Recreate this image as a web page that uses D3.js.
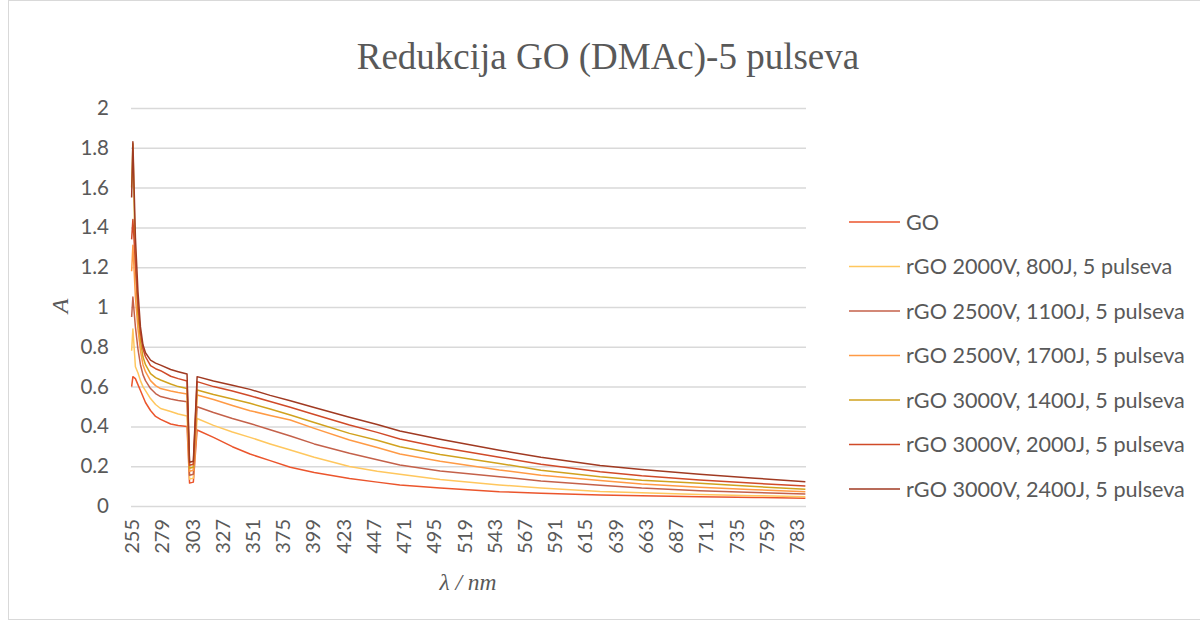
<!DOCTYPE html>
<html>
<head>
<meta charset="utf-8">
<script src="https://cdn.jsdelivr.net/npm/d3@7/dist/d3.min.js"></script>
<style>
  html, body { margin: 0; padding: 0; background: #fff; }
  svg { display: block; }
</style>
</head>
<body>
<svg id="chart" width="1200" height="621"></svg>
<script>
// ---- data ----
const wavelengths = [255, 256, 258, 260, 262, 264, 266, 270, 274, 278, 286, 292, 299, 301, 304, 307,
  320, 335, 349, 365, 381, 400, 428, 450, 468, 500, 547, 580, 627, 660, 706, 750, 790];

const seriesNames = [
  "GO",
  "rGO 2000V, 800J, 5 pulseva",
  "rGO 2500V, 1100J, 5 pulseva",
  "rGO 2500V, 1700J, 5 pulseva",
  "rGO 3000V, 1400J, 5 pulseva",
  "rGO 3000V, 2000J, 5 pulseva",
  "rGO 3000V, 2400J, 5 pulseva"
];

const go = [0.60, 0.65, 0.64, 0.61, 0.58, 0.55, 0.52, 0.48, 0.45, 0.435, 0.412, 0.405, 0.40, 0.115, 0.12, 0.382,
  0.345, 0.298, 0.261, 0.228, 0.195, 0.168, 0.138, 0.12, 0.106, 0.09, 0.072, 0.064, 0.055, 0.051, 0.047, 0.043, 0.039];
const v2000_800 = [0.78, 0.89, 0.70, 0.67, 0.63, 0.60, 0.58, 0.54, 0.51, 0.49, 0.475, 0.462, 0.452, 0.135, 0.14, 0.44,
  0.405, 0.372, 0.345, 0.312, 0.281, 0.245, 0.198, 0.175, 0.159, 0.133, 0.106, 0.09, 0.073, 0.066, 0.058, 0.052, 0.047];
const v2500_1100 = [0.95, 1.05, 0.90, 0.79, 0.71, 0.66, 0.63, 0.59, 0.565, 0.55, 0.538, 0.53, 0.524, 0.155, 0.16, 0.499,
  0.47, 0.44, 0.415, 0.383, 0.352, 0.312, 0.265, 0.232, 0.206, 0.176, 0.147, 0.126, 0.104, 0.09, 0.077, 0.068, 0.06];
const v2500_1700 = [1.18, 1.31, 1.05, 0.89, 0.78, 0.71, 0.675, 0.63, 0.605, 0.59, 0.578, 0.57, 0.563, 0.175, 0.18, 0.558,
  0.535, 0.505, 0.479, 0.455, 0.432, 0.39, 0.332, 0.294, 0.261, 0.225, 0.181, 0.155, 0.128, 0.11, 0.094, 0.082, 0.072];
const v3000_1400 = [1.60, 1.82, 1.22, 0.96, 0.83, 0.75, 0.71, 0.665, 0.645, 0.633, 0.613, 0.60, 0.59, 0.19, 0.195, 0.583,
  0.56, 0.538, 0.516, 0.487, 0.457, 0.42, 0.365, 0.33, 0.298, 0.259, 0.214, 0.18, 0.147, 0.13, 0.114, 0.098, 0.084];
const v3000_2000 = [1.34, 1.44, 1.22, 1.01, 0.87, 0.79, 0.75, 0.705, 0.69, 0.68, 0.652, 0.64, 0.628, 0.205, 0.21, 0.625,
  0.60, 0.578, 0.554, 0.525, 0.496, 0.46, 0.407, 0.37, 0.337, 0.295, 0.245, 0.21, 0.172, 0.152, 0.131, 0.114, 0.10];
const v3000_2400 = [1.55, 1.83, 1.35, 1.08, 0.90, 0.81, 0.77, 0.733, 0.718, 0.708, 0.686, 0.675, 0.663, 0.22, 0.225, 0.65,
  0.628, 0.607, 0.586, 0.556, 0.529, 0.495, 0.446, 0.41, 0.377, 0.335, 0.28, 0.245, 0.203, 0.183, 0.16, 0.14, 0.122];

const seriesValues = [go, v2000_800, v2500_1100, v2500_1700, v3000_1400, v3000_2000, v3000_2400];
const seriesColors = ["#EB552C", "#FFC75E", "#C4614A", "#FF9A45", "#D1A21E", "#D04A28", "#A03A22"];

const xTickLabels = [255, 279, 303, 327, 351, 375, 399, 423, 447, 471, 495, 519, 543, 567, 591, 615, 639, 663, 687, 711, 735, 759, 783];
const yTicks = [0, 0.2, 0.4, 0.6, 0.8, 1, 1.2, 1.4, 1.6, 1.8, 2];

// ---- drawing ----
const svg = d3.select("#chart");
const grey = "#595959";

svg.append("rect")
  .attr("x", 8.5).attr("y", 0.5).attr("width", 1200).attr("height", 619)
  .attr("fill", "#fff").attr("stroke", "#d9d9d9");

const plotL = 131, plotR = 806, plotT = 108, plotB = 506;
const x = d3.scaleLinear().domain([254.5, 790.5]).range([plotL, plotR]);
const y = d3.scaleLinear().domain([0, 2]).range([plotB, plotT]);

// gridlines + y labels
const yAxis = d3.axisLeft(y).tickValues(yTicks).tickSize(-(plotR - plotL)).tickPadding(22)
  .tickFormat(d => String(+d.toFixed(1)));
const gy = svg.append("g").attr("transform", `translate(${plotL},0)`).call(yAxis);
gy.select(".domain").remove();
gy.selectAll(".tick line").attr("stroke", "#d9d9d9").attr("stroke-width", 1.5);
gy.selectAll(".tick text").attr("fill", grey)
  .style("font-family", "Lato, 'Noto Sans', sans-serif").style("font-size", "20.5px");

// x labels
const xAxis = d3.axisBottom(x).tickValues(xTickLabels).tickSize(0).tickPadding(0);
const gx = svg.append("g").attr("transform", `translate(0,${plotB})`).call(xAxis);
gx.select(".domain").remove();
gx.selectAll(".tick text")
  .attr("fill", grey)
  .style("font-family", "Lato, 'Noto Sans', sans-serif").style("font-size", "20px")
  .attr("text-anchor", "end")
  .attr("transform", "rotate(-90)")
  .attr("x", -13).attr("y", 0).attr("dy", "0.35em");

// lines
const line = d3.line().x((d, i) => x(wavelengths[i])).y(d => y(d));
const gl = svg.append("g");
seriesValues.forEach((vals, k) => {
  gl.append("path").datum(vals)
    .attr("d", line)
    .attr("fill", "none")
    .attr("stroke", seriesColors[k])
    .attr("stroke-width", 1.5)
    .attr("stroke-linejoin", "round");
});

// title
svg.append("text").attr("x", 608).attr("y", 69).attr("text-anchor", "middle")
  .attr("fill", grey)
  .style("font-family", "'Liberation Serif', 'Times New Roman', serif").style("font-size", "37px")
  .text("Redukcija GO (DMAc)-5 pulseva");

// axis titles
svg.append("text").attr("transform", "translate(68,306) rotate(-90)").attr("text-anchor", "middle")
  .attr("fill", grey)
  .style("font-family", "'Liberation Serif', serif").style("font-style", "italic").style("font-size", "24px")
  .text("A");
svg.append("text").attr("x", 468).attr("y", 590).attr("text-anchor", "middle")
  .attr("fill", grey)
  .style("font-family", "'Liberation Serif', serif").style("font-style", "italic").style("font-size", "23.5px")
  .text("λ / nm");

// legend
const lg = svg.append("g");
seriesNames.forEach((name, k) => {
  const ly = 222 + k * 44.5;
  lg.append("line").attr("x1", 849).attr("x2", 900).attr("y1", ly).attr("y2", ly)
    .attr("stroke", seriesColors[k]).attr("stroke-width", 1.5);
  lg.append("text").attr("x", 906).attr("y", ly).attr("dy", "0.35em")
    .attr("fill", grey)
    .style("font-family", "Lato, 'Noto Sans', sans-serif").style("font-size", "21.6px")
    .text(name);
});
</script>
</body>
</html>
